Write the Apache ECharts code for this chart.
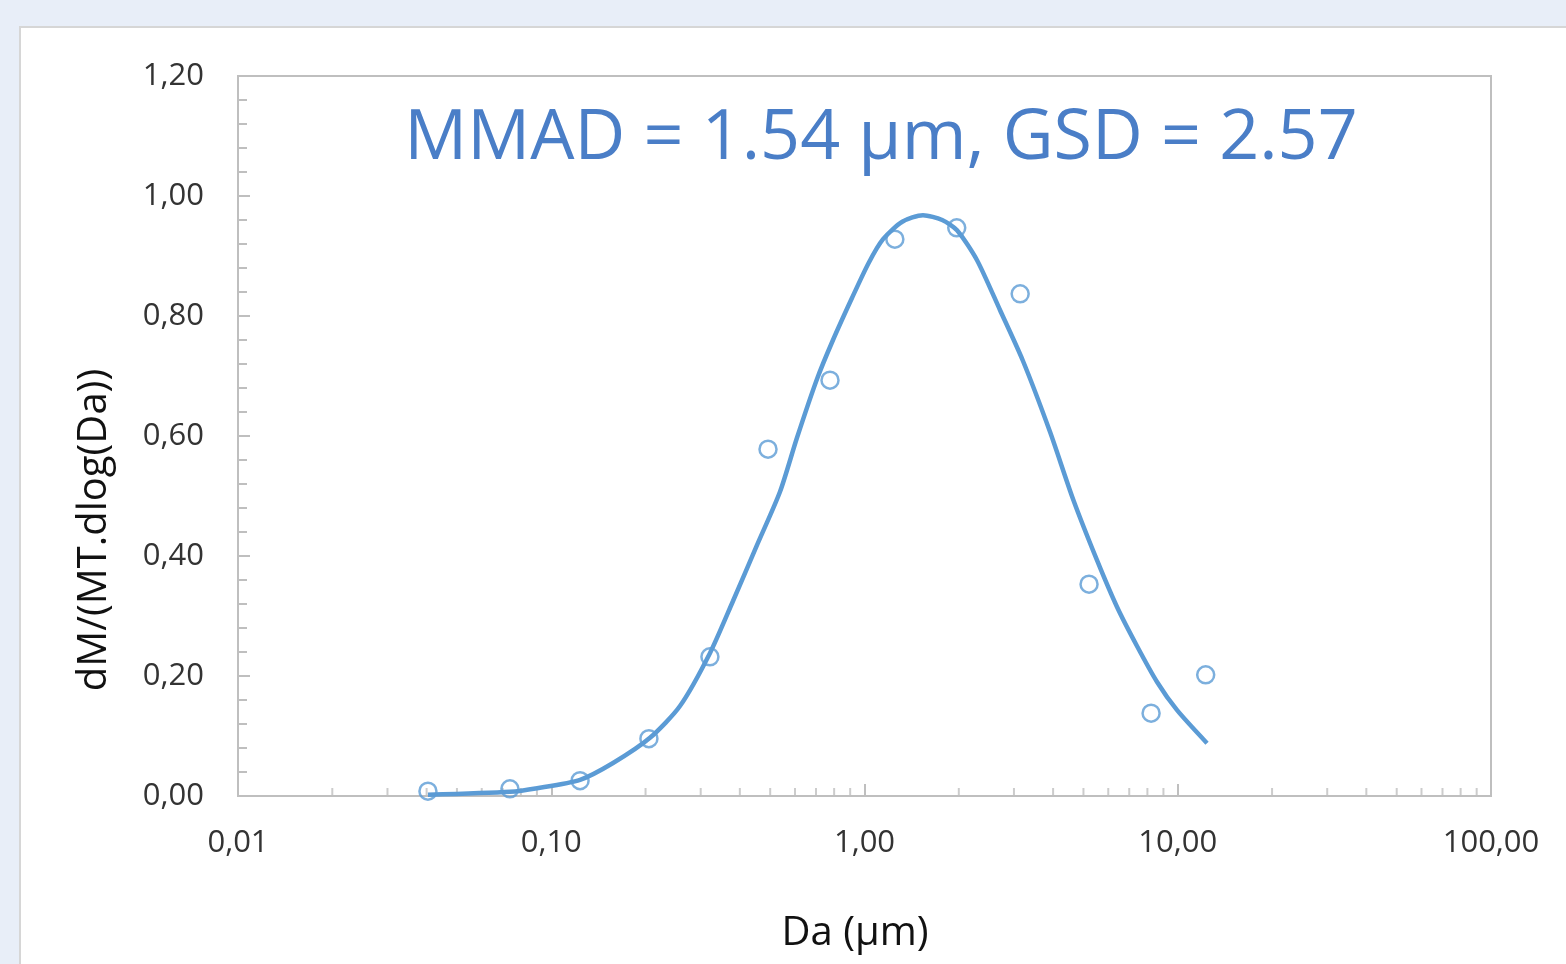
<!DOCTYPE html>
<html>
<head>
<meta charset="utf-8">
<script src="https://cdn.jsdelivr.net/npm/echarts@6/dist/echarts.min.js"></script>
<style>
  html, body { margin: 0; padding: 0; background: #e8eef8; }
  #chart { width: 1566px; height: 964px; }
</style>
</head>
<body>
<div id="chart"></div>
<script>
// measured points (Da in µm, dM/(MT.dlog(Da)))
var pointX = [0.0404, 0.0738, 0.1236, 0.205, 0.321, 0.492, 0.776, 1.25, 1.97, 3.14, 5.21, 8.22, 12.28];
var pointY = [0.008, 0.012, 0.0255, 0.0955, 0.232, 0.578, 0.693, 0.928, 0.947, 0.837, 0.353, 0.138, 0.202];

// fitted curve
var curveX = [0.0404, 0.0738, 0.0901, 0.1236, 0.1575, 0.2066, 0.2576, 0.321, 0.3804, 0.4537, 0.5373, 0.6088, 0.7054, 0.7933, 0.912, 1.03, 1.146, 1.32, 1.537, 1.77, 1.974, 2.287, 2.707, 3.206, 3.910, 4.630, 5.523, 6.40, 7.41, 8.59, 9.95, 12.40];
var curveY = [0.002, 0.007, 0.013, 0.027, 0.055, 0.097, 0.15, 0.238, 0.325, 0.418, 0.507, 0.597, 0.695, 0.76, 0.83, 0.888, 0.928, 0.957, 0.968, 0.96, 0.943, 0.893, 0.81, 0.725, 0.607, 0.495, 0.393, 0.315, 0.25, 0.19, 0.143, 0.088];

// log axis minor tick positions
var decades = [0.01, 0.1, 1, 10];
var minorSteps = [2, 3, 4, 5, 6, 7, 8, 9];

var titleText = 'MMAD = 1.54 µm, GSD = 2.57';
var xName = 'Da (µm)';
var yName = 'dM/(MT.dlog(Da))';

var points = pointX.map(function (x, i) { return [x, pointY[i]]; });
var curve = curveX.map(function (x, i) { return [x, curveY[i]]; });
var minorTicks = [];
decades.forEach(function (d) {
    minorSteps.forEach(function (s) { minorTicks.push([+(d * s).toPrecision(3), 0]); });
});

function fmt(v) {
    return v.toFixed(2).replace('.', ',');
}

var myChart = echarts.init(document.getElementById('chart'));
var font = '"Open Sans", "Noto Sans", sans-serif';

myChart.setOption({
    backgroundColor: '#e8eef8',
    animation: false,
    textStyle: { fontFamily: font },
    graphic: [
        {
            type: 'rect', z: -10,
            shape: { x: 20, y: 27, width: 1600, height: 1000 },
            style: { fill: '#fff', stroke: '#d6d6d6', lineWidth: 2 }
        },
        {
            type: 'text', z: 10,
            x: 881, y: 139,
            style: {
                text: titleText, fill: '#4a7ec7',
                font: '500 70px ' + font,
                align: 'center', verticalAlign: 'middle'
            }
        },
        {
            type: 'text', z: 10,
            x: 95, y: 530, rotation: Math.PI / 2,
            style: {
                text: yName, fill: '#111',
                font: '40px ' + font,
                align: 'center', verticalAlign: 'middle'
            }
        },
        {
            type: 'text', z: 10,
            x: 855, y: 934,
            style: {
                text: xName, fill: '#111',
                font: '40px ' + font,
                align: 'center', verticalAlign: 'middle'
            }
        }
    ],
    grid: {
        left: 238, right: 75, top: 76, bottom: 168,
        show: true, borderColor: '#bfbfbf', borderWidth: 2
    },
    xAxis: {
        type: 'log', logBase: 10, min: 0.01, max: 100,
        axisLine: { lineStyle: { color: '#bfbfbf', width: 2 } },
        axisTick: { inside: true, length: 12, lineStyle: { color: '#bfbfbf', width: 2 } },
        splitLine: { show: false },
        axisLabel: {
            margin: 32, fontSize: 31, color: '#333',
            formatter: fmt
        }
    },
    yAxis: {
        type: 'value', min: 0, max: 1.2, interval: 0.2,
        axisLine: { show: true, lineStyle: { color: '#bfbfbf', width: 2 } },
        axisTick: { show: true, inside: true, length: 12, lineStyle: { color: '#bfbfbf', width: 2 } },
        minorTick: { show: true, splitNumber: 5, length: 9, lineStyle: { color: '#bfbfbf', width: 2 } },
        splitLine: { show: false },
        axisLabel: {
            margin: 34, fontSize: 31, color: '#333',
            formatter: fmt
        }
    },
    series: [
        {
            name: 'ticks',
            type: 'scatter',
            silent: true,
            symbol: 'rect',
            symbolSize: [2, 8],
            symbolOffset: [0, -4],
            itemStyle: { color: '#bfbfbf' },
            data: minorTicks,
            z: 1
        },
        {
            name: 'fit',
            type: 'line',
            smooth: 0.25,
            showSymbol: false,
            lineStyle: { color: '#5b9bd5', width: 4.5 },
            data: curve,
            z: 3
        },
        {
            name: 'measured',
            type: 'scatter',
            symbol: 'circle',
            symbolSize: 17,
            itemStyle: { color: 'rgba(0,0,0,0)', borderColor: '#5b9bd5', borderWidth: 2.5 },
            data: points,
            z: 4
        }
    ]
});
</script>
</body>
</html>
